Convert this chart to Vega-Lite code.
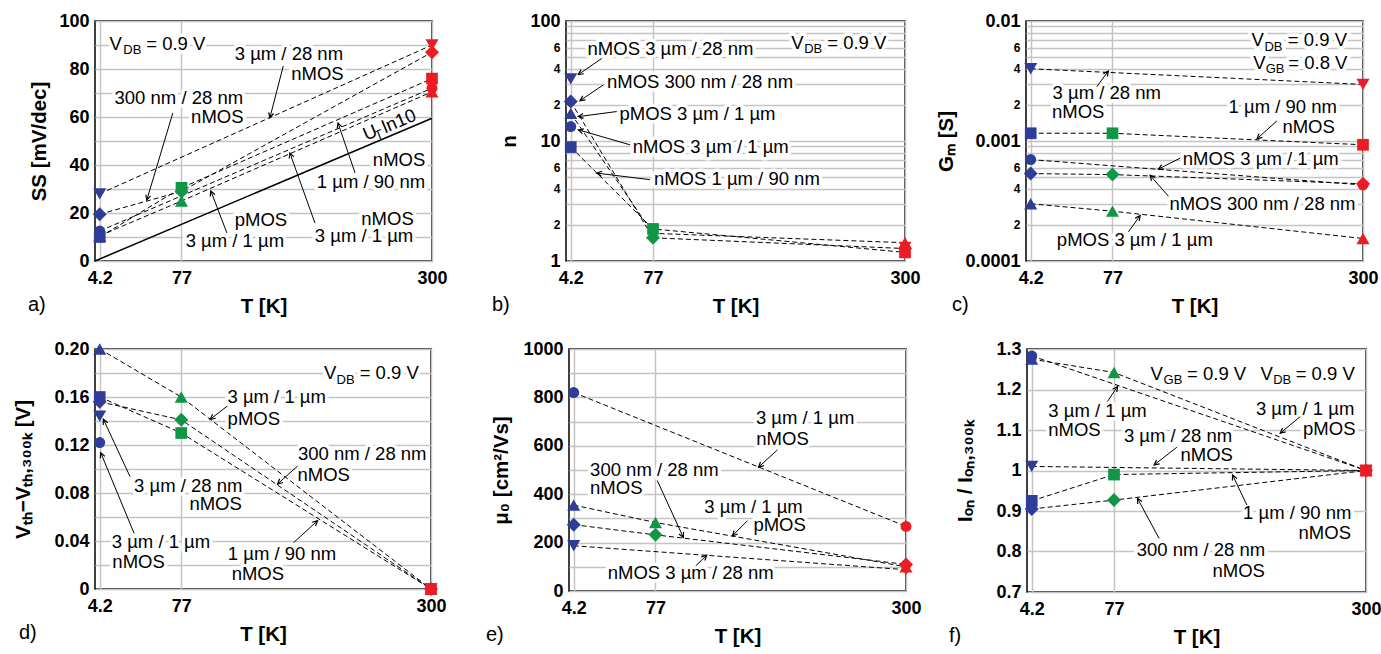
{
  "$schema": "https://vega.github.io/schema/vega-lite/v6.json",
  "padding": {"left": 13, "top": 11, "right": 4, "bottom": 4},
  "config": {
    "view": {"stroke": "black", "strokeWidth": 1.5},
    "axis": {
      "domain": false, "ticks": false, "grid": true, "gridColor": "#c4c4c4", "gridWidth": 1.5, "gridOpacity": 1,
      "labelFont": "Liberation Sans", "labelFontWeight": "bold", "labelFontSize": 18, "labelColor": "black",
      "labelPadding": 6, "labelFlush": false, "labelOverlap": false,
      "titleFont": "Liberation Sans", "titleFontWeight": "bold", "titleFontSize": 20.5, "titleColor": "black"
    },
    "title": {"font": "Liberation Sans", "fontWeight": "normal", "fontSize": 20, "color": "black"},
    "text": {"font": "Liberation Sans"}
  },
  "datasets": {
    "ut": [{"T": 0, "v": 0}, {"T": 300, "v": 59.5}],
    "pts": [
      {"p": "a", "s": "n1u90n", "T": 4.2, "v": 10},
      {"p": "a", "s": "p3u1u", "T": 4.2, "v": 10.5},
      {"p": "a", "s": "n3u1u", "T": 4.2, "v": 12.5},
      {"p": "a", "s": "n300n28n", "T": 4.2, "v": 19.5},
      {"p": "a", "s": "n3u28n", "T": 4.2, "v": 28},
      {"p": "a", "s": "n300n28n", "T": 77, "v": 29},
      {"p": "a", "s": "n1u90n", "T": 77, "v": 30.5},
      {"p": "a", "s": "p3u1u", "T": 77, "v": 25},
      {"p": "a", "s": "n3u28n", "T": 300, "v": 90},
      {"p": "a", "s": "n300n28n", "T": 300, "v": 87},
      {"p": "a", "s": "n1u90n", "T": 300, "v": 76},
      {"p": "a", "s": "p3u1u", "T": 300, "v": 70.5},
      {"p": "a", "s": "n3u1u", "T": 300, "v": 72},

      {"p": "b", "s": "n3u28n", "T": 4.2, "v": 33},
      {"p": "b", "s": "n300n28n", "T": 4.2, "v": 21.3},
      {"p": "b", "s": "p3u1u", "T": 4.2, "v": 17},
      {"p": "b", "s": "n3u1u", "T": 4.2, "v": 13.2},
      {"p": "b", "s": "n1u90n", "T": 4.2, "v": 8.9},
      {"p": "b", "s": "p3u1u", "T": 77, "v": 1.7},
      {"p": "b", "s": "n1u90n", "T": 77, "v": 1.85},
      {"p": "b", "s": "n300n28n", "T": 77, "v": 1.56},
      {"p": "b", "s": "n3u28n", "T": 300, "v": 1.3},
      {"p": "b", "s": "n3u1u", "T": 300, "v": 1.25},
      {"p": "b", "s": "n300n28n", "T": 300, "v": 1.27},
      {"p": "b", "s": "n1u90n", "T": 300, "v": 1.18},
      {"p": "b", "s": "p3u1u", "T": 300, "v": 1.42},

      {"p": "c", "s": "n3u28n", "T": 4.2, "v": 0.004},
      {"p": "c", "s": "n1u90n", "T": 4.2, "v": 0.00116},
      {"p": "c", "s": "n3u1u", "T": 4.2, "v": 0.0007},
      {"p": "c", "s": "n300n28n", "T": 4.2, "v": 0.000535},
      {"p": "c", "s": "p3u1u", "T": 4.2, "v": 0.0003},
      {"p": "c", "s": "n1u90n", "T": 77, "v": 0.00116},
      {"p": "c", "s": "n300n28n", "T": 77, "v": 0.000525},
      {"p": "c", "s": "p3u1u", "T": 77, "v": 0.00026},
      {"p": "c", "s": "n3u28n", "T": 300, "v": 0.00296},
      {"p": "c", "s": "n1u90n", "T": 300, "v": 0.00093},
      {"p": "c", "s": "n3u1u", "T": 300, "v": 0.00043},
      {"p": "c", "s": "n300n28n", "T": 300, "v": 0.00044},
      {"p": "c", "s": "p3u1u", "T": 300, "v": 0.000154},

      {"p": "d", "s": "p3u1u", "T": 4.2, "v": 0.2},
      {"p": "d", "s": "n1u90n", "T": 4.2, "v": 0.16},
      {"p": "d", "s": "n300n28n", "T": 4.2, "v": 0.156},
      {"p": "d", "s": "n3u28n", "T": 4.2, "v": 0.144},
      {"p": "d", "s": "n3u1u", "T": 4.2, "v": 0.122},
      {"p": "d", "s": "p3u1u", "T": 77, "v": 0.16},
      {"p": "d", "s": "n300n28n", "T": 77, "v": 0.141},
      {"p": "d", "s": "n1u90n", "T": 77, "v": 0.13},
      {"p": "d", "s": "p3u1u", "T": 300, "v": 0},
      {"p": "d", "s": "n1u90n", "T": 300, "v": 0},
      {"p": "d", "s": "n300n28n", "T": 300, "v": 0},
      {"p": "d", "s": "n3u28n", "T": 300, "v": 0},
      {"p": "d", "s": "n3u1u", "T": 300, "v": 0},

      {"p": "e", "s": "n3u1u", "T": 4.2, "v": 820},
      {"p": "e", "s": "p3u1u", "T": 4.2, "v": 355},
      {"p": "e", "s": "n300n28n", "T": 4.2, "v": 274},
      {"p": "e", "s": "n3u28n", "T": 4.2, "v": 187},
      {"p": "e", "s": "p3u1u", "T": 77, "v": 283},
      {"p": "e", "s": "n300n28n", "T": 77, "v": 232},
      {"p": "e", "s": "n3u1u", "T": 300, "v": 267},
      {"p": "e", "s": "p3u1u", "T": 300, "v": 100},
      {"p": "e", "s": "n3u28n", "T": 300, "v": 88},
      {"p": "e", "s": "n300n28n", "T": 300, "v": 110},

      {"p": "f", "s": "p3u1u", "T": 4.2, "v": 1.275},
      {"p": "f", "s": "n3u1u", "T": 4.2, "v": 1.283},
      {"p": "f", "s": "n3u28n", "T": 4.2, "v": 1.01},
      {"p": "f", "s": "n1u90n", "T": 4.2, "v": 0.925},
      {"p": "f", "s": "n300n28n", "T": 4.2, "v": 0.905},
      {"p": "f", "s": "p3u1u", "T": 77, "v": 1.242},
      {"p": "f", "s": "n1u90n", "T": 77, "v": 0.99},
      {"p": "f", "s": "n300n28n", "T": 77, "v": 0.927},
      {"p": "f", "s": "p3u1u", "T": 300, "v": 1},
      {"p": "f", "s": "n1u90n", "T": 300, "v": 1},
      {"p": "f", "s": "n300n28n", "T": 300, "v": 1},
      {"p": "f", "s": "n3u28n", "T": 300, "v": 1},
      {"p": "f", "s": "n3u1u", "T": 300, "v": 1}
    ],
    "txt": [
      {"p": "a", "T": 18.4, "v": 90.4, "t": "V"},
      {"p": "a", "T": 33.2, "v": 87.9, "t": "DB", "k": "s"},
      {"p": "a", "T": 71.9, "v": 90.4, "t": "= 0.9 V"},
      {"p": "a", "T": 172.6, "v": 86.25, "t": "3 µm / 28 nm"},
      {"p": "a", "T": 198.0, "v": 78.1, "t": "nMOS"},
      {"p": "a", "T": 74.6, "v": 68.0, "t": "300 nm / 28 nm"},
      {"p": "a", "T": 108.9, "v": 60.1, "t": "nMOS"},
      {"p": "a", "T": 147.7, "v": 17.1, "t": "pMOS"},
      {"p": "a", "T": 124.5, "v": 8.3, "t": "3 µm / 1 µm"},
      {"p": "a", "T": 260.4, "v": 17.7, "t": "nMOS"},
      {"p": "a", "T": 239.5, "v": 10.4, "t": "3 µm / 1 µm"},
      {"p": "a", "T": 270.7, "v": 42.1, "t": "nMOS"},
      {"p": "a", "T": 245.7, "v": 32.9, "t": "1 µm / 90 nm"},
      {"p": "a", "T": 244.8, "v": 53.5, "t": "U", "k": "r"},
      {"p": "a", "T": 252.9, "v": 52.5, "t": "T", "k": "rs"},
      {"p": "a", "T": 270.7, "v": 58.3, "t": "ln10", "k": "r"},

      {"p": "b", "T": 92.5, "v": 58.0, "t": "nMOS 3 µm / 28 nm"},
      {"p": "b", "T": 204.9, "v": 65.7, "t": "V"},
      {"p": "b", "T": 218.8, "v": 58.0, "t": "DB", "k": "s"},
      {"p": "b", "T": 257.3, "v": 65.7, "t": "= 0.9 V"},
      {"p": "b", "T": 118.6, "v": 31.2, "t": "nMOS 300 nm / 28 nm"},
      {"p": "b", "T": 116.4, "v": 16.9, "t": "pMOS 3 µm / 1 µm"},
      {"p": "b", "T": 128.1, "v": 8.87, "t": "nMOS 3 µm / 1 µm"},
      {"p": "b", "T": 151.2, "v": 4.84, "t": "nMOS 1 µm / 90 nm"},

      {"p": "c", "T": 206.3, "v": 0.006916, "t": "V"},
      {"p": "c", "T": 220.3, "v": 0.006118, "t": "DB", "k": "s"},
      {"p": "c", "T": 259.4, "v": 0.006916, "t": "= 0.9 V"},
      {"p": "c", "T": 207.7, "v": 0.004497, "t": "V"},
      {"p": "c", "T": 221.7, "v": 0.004018, "t": "GB", "k": "s"},
      {"p": "c", "T": 259.8, "v": 0.004497, "t": "= 0.8 V"},
      {"p": "c", "T": 71.9, "v": 0.002536, "t": "3 µm / 28 nm"},
      {"p": "c", "T": 46.5, "v": 0.001731, "t": "nMOS"},
      {"p": "c", "T": 228.6, "v": 0.001905, "t": "1 µm / 90 nm"},
      {"p": "c", "T": 251.6, "v": 0.001299, "t": "nMOS"},
      {"p": "c", "T": 209.0, "v": 0.000709, "t": "nMOS 3 µm / 1 µm"},
      {"p": "c", "T": 210.5, "v": 0.0003, "t": "nMOS 300 nm / 28 nm"},
      {"p": "c", "T": 96.9, "v": 0.0001494, "t": "pMOS 3 µm / 1 µm"},

      {"p": "d", "T": 209.9, "v": 0.1798, "t": "V"},
      {"p": "d", "T": 223.8, "v": 0.1742, "t": "DB", "k": "s"},
      {"p": "d", "T": 262.7, "v": 0.1798, "t": "= 0.9 V"},
      {"p": "d", "T": 162.2, "v": 0.1596, "t": "3 µm / 1 µm"},
      {"p": "d", "T": 141.8, "v": 0.1417, "t": "pMOS"},
      {"p": "d", "T": 238.6, "v": 0.1128, "t": "300 nm / 28 nm"},
      {"p": "d", "T": 204.2, "v": 0.095, "t": "nMOS"},
      {"p": "d", "T": 83.3, "v": 0.0862, "t": "3 µm / 28 nm"},
      {"p": "d", "T": 107.7, "v": 0.0708, "t": "nMOS"},
      {"p": "d", "T": 58.9, "v": 0.0388, "t": "3 µm / 1 µm"},
      {"p": "d", "T": 38.9, "v": 0.0221, "t": "nMOS"},
      {"p": "d", "T": 167.0, "v": 0.0292, "t": "1 µm / 90 nm"},
      {"p": "d", "T": 145.4, "v": 0.0125, "t": "nMOS"},

      {"p": "e", "T": 210.2, "v": 715.8, "t": "3 µm / 1 µm"},
      {"p": "e", "T": 190.1, "v": 629.9, "t": "nMOS"},
      {"p": "e", "T": 76.0, "v": 501.2, "t": "300 nm / 28 nm"},
      {"p": "e", "T": 42.1, "v": 424.5, "t": "nMOS"},
      {"p": "e", "T": 164.3, "v": 349, "t": "3 µm / 1 µm"},
      {"p": "e", "T": 187.5, "v": 273, "t": "pMOS"},
      {"p": "e", "T": 108.3, "v": 72.6, "t": "nMOS 3 µm / 28 nm"},

      {"p": "f", "T": 114.7, "v": 1.2384, "t": "V"},
      {"p": "f", "T": 129.2, "v": 1.2233, "t": "GB", "k": "s"},
      {"p": "f", "T": 167.8, "v": 1.2384, "t": "= 0.9 V"},
      {"p": "f", "T": 212.1, "v": 1.2384, "t": "V"},
      {"p": "f", "T": 225.9, "v": 1.2233, "t": "DB", "k": "s"},
      {"p": "f", "T": 263.9, "v": 1.2384, "t": "= 0.9 V"},
      {"p": "f", "T": 62.4, "v": 1.1478, "t": "3 µm / 1 µm"},
      {"p": "f", "T": 42.0, "v": 1.1002, "t": "nMOS"},
      {"p": "f", "T": 133.7, "v": 1.0842, "t": "3 µm / 28 nm"},
      {"p": "f", "T": 159.0, "v": 1.0389, "t": "nMOS"},
      {"p": "f", "T": 246.1, "v": 1.1517, "t": "3 µm / 1 µm"},
      {"p": "f", "T": 267.5, "v": 1.1022, "t": "pMOS"},
      {"p": "f", "T": 239.2, "v": 0.896, "t": "1 µm / 90 nm"},
      {"p": "f", "T": 263.5, "v": 0.8465, "t": "nMOS"},
      {"p": "f", "T": 153.9, "v": 0.8037, "t": "300 nm / 28 nm"},
      {"p": "f", "T": 187.3, "v": 0.7507, "t": "nMOS"}
    ],
    "arr": [
      {"p": "a", "T": 167.6, "v": 81.25, "T2": 155.7, "v2": 59.7, "a": 194.4},
      {"p": "a", "T": 69.3, "v": 61.7, "T2": 46.1, "v2": 25.4, "a": 196.6},
      {"p": "a", "T": 117.4, "v": 11.7, "T2": 103.1, "v2": 29.2, "a": 339.1},
      {"p": "a", "T": 195.8, "v": 15.8, "T2": 173.5, "v2": 45, "a": 340.3},
      {"p": "a", "T": 231.5, "v": 36.7, "T2": 216.3, "v2": 57.5, "a": 341.2},
      {"p": "b", "T": 31.6, "v": 48.7, "T2": 10.9, "v2": 35.8, "a": 235.6},
      {"p": "b", "T": 33.0, "v": 29.3, "T2": 12.4, "v2": 21.7, "a": 236},
      {"p": "b", "T": 44.9, "v": 17.6, "T2": 10.9, "v2": 15.97, "a": 262.6},
      {"p": "b", "T": 56.6, "v": 9.3, "T2": 10.9, "v2": 12.39, "a": 286.2},
      {"p": "b", "T": 74.3, "v": 4.76, "T2": 27.2, "v2": 5.4, "a": 277.1},
      {"p": "c", "T": 63.0, "v": 0.002834, "T2": 73.3, "v2": 0.003825, "a": 36.5},
      {"p": "c", "T": 223.4, "v": 0.001471, "T2": 205.6, "v2": 0.001043, "a": 228},
      {"p": "c", "T": 137.3, "v": 0.00072, "T2": 117.9, "v2": 0.0005834, "a": 243.1},
      {"p": "c", "T": 126.8, "v": 0.0003462, "T2": 110.5, "v2": 0.0005172, "a": 318.9},
      {"p": "c", "T": 91.2, "v": 0.000175, "T2": 101.6, "v2": 0.0002395, "a": 35.5},
      {"p": "d", "T": 118.3, "v": 0.1525, "T2": 102.8, "v2": 0.1414, "a": 232.6},
      {"p": "d", "T": 180.9, "v": 0.1025, "T2": 163.0, "v2": 0.0875, "a": 228},
      {"p": "d", "T": 31.3, "v": 0.0936, "T2": 7.5, "v2": 0.1414, "a": 335.1},
      {"p": "d", "T": 34.9, "v": 0.0464, "T2": 5.1, "v2": 0.1136, "a": 337.6},
      {"p": "d", "T": 177.3, "v": 0.0386, "T2": 198.7, "v2": 0.0569, "a": 47.5},
      {"p": "e", "T": 185.6, "v": 583.4, "T2": 168.7, "v2": 511.6, "a": 227.7},
      {"p": "e", "T": 78.6, "v": 456.4, "T2": 101.8, "v2": 221.2, "a": 155.4},
      {"p": "e", "T": 158.9, "v": 290.5, "T2": 145.5, "v2": 228.2, "a": 225},
      {"p": "e", "T": 112.8, "v": 103.7, "T2": 122.6, "v2": 147.7, "a": 46.1},
      {"p": "f", "T": 71.2, "v": 1.1703, "T2": 80.1, "v2": 1.2074, "a": 33.7},
      {"p": "f", "T": 132.6, "v": 1.0574, "T2": 112.5, "v2": 1.0136, "a": 232.1},
      {"p": "f", "T": 241.8, "v": 1.1332, "T2": 224.1, "v2": 1.0921, "a": 230.3},
      {"p": "f", "T": 194.6, "v": 0.9146, "T2": 181.9, "v2": 0.9889, "a": 334.5},
      {"p": "f", "T": 116.9, "v": 0.8322, "T2": 97.8, "v2": 0.9312, "a": 331.6}
    ]
  },
  "spacing": 21,
  "resolve": {"scale": {"x": "independent", "y": "independent"}},
  "vconcat": [
    {
      "bounds": "flush", "spacing": 134,
      "resolve": {"scale": {"x": "independent", "y": "independent"}},
      "hconcat": [
        {
          "width": 337, "height": 240,
          "title": {"text": "a)", "orient": "bottom", "anchor": "start", "frame": "group", "dx": -67, "offset": -22},
          "encoding": {
            "x": {"field": "T", "type": "quantitative", "scale": {"domain": [0, 300], "nice": false},
                  "axis": {"title": "T [K]", "values": [4.2, 77, 300], "labelExpr": "datum.value === 4.2 ? '4.2' : format(datum.value, 'd')", "labelPadding": 8, "titlePadding": 9}},
            "y": {"field": "v", "type": "quantitative", "scale": {"domain": [0, 100], "nice": false},
                  "axis": {"title": "SS [mV/dec]", "values": [0, 10, 20, 30, 40, 50, 60, 70, 80, 90, 100],
                           "labelExpr": "datum.value % 20 === 0 ? format(datum.value, 'd') : ''", "titlePadding": 9}}
          },
          "layer": [
            {"data": {"name": "ut"}, "mark": {"type": "line", "color": "black", "strokeWidth": 1.5}},
            {"data": {"name": "pts"}, "transform": [{"filter": "datum.p === 'a'"}],
             "mark": {"type": "line", "color": "black", "strokeWidth": 1, "strokeDash": [5, 3]},
             "encoding": {"detail": {"field": "s"}, "order": {"field": "T", "type": "quantitative"}}},
            {"data": {"name": "txt"}, "transform": [{"filter": "datum.p === 'a' && datum.k !== 'r' && datum.k !== 'rs'"}],
             "mark": {"type": "text", "fill": "white", "stroke": "white", "strokeWidth": 7, "strokeJoin": "round", "font": "Liberation Sans"},
             "encoding": {"text": {"field": "t"}, "size": {"condition": {"test": "datum.k === 's' || datum.k === 'rs'", "value": 13}, "value": 18.5}}},
            {"data": {"name": "txt"}, "transform": [{"filter": "datum.p === 'a'"}],
             "mark": {"type": "text", "color": "black", "font": "Liberation Sans"},
             "encoding": {"text": {"field": "t"}, "size": {"condition": {"test": "datum.k === 's' || datum.k === 'rs'", "value": 13}, "value": 18.5},
                          "angle": {"condition": {"test": "datum.k === 'r' || datum.k === 'rs'", "value": 337}, "value": 0}}},
            {"data": {"name": "arr"}, "transform": [{"filter": "datum.p === 'a'"}],
             "mark": {"type": "rule", "color": "black", "strokeWidth": 1},
             "encoding": {"x2": {"field": "T2"}, "y2": {"field": "v2"}}},
            {"data": {"name": "arr"}, "transform": [{"filter": "datum.p === 'a'"}],
             "mark": {"type": "point", "shape": "M-0.5,1L0,0L0.5,1", "filled": false, "color": "black", "strokeWidth": 1.2, "size": 100, "opacity": 1},
             "encoding": {"x": {"field": "T2", "type": "quantitative"}, "y": {"field": "v2", "type": "quantitative"}, "angle": {"field": "a", "type": "quantitative", "scale": null}}},
            {"data": {"name": "pts"}, "transform": [{"filter": "datum.p === 'a'"}],
             "mark": {"type": "point", "filled": true, "opacity": 1},
             "encoding": {
               "shape": {"field": "s", "type": "nominal", "scale": {"domain": ["n3u28n", "n300n28n", "p3u1u", "n3u1u", "n1u90n"], "range": ["triangle-down", "diamond", "triangle-up", "circle", "square"]}, "legend": null},
               "size": {"field": "s", "type": "nominal", "scale": {"type": "ordinal", "domain": ["n3u28n", "n300n28n", "p3u1u", "n3u1u", "n1u90n"], "range": [170, 195, 170, 120, 137]}, "legend": null},
               "color": {"field": "T", "type": "nominal", "scale": {"domain": [4.2, 77, 300], "range": ["#2f3c98", "#119648", "#ec1c24"]}, "legend": null}}}
          ]
        },
        {
          "bounds": "flush", "spacing": 121,
          "resolve": {"scale": {"x": "independent", "y": "independent"}},
          "hconcat": [
            {
              "width": 339, "height": 240,
              "title": {"text": "b)", "orient": "bottom", "anchor": "start", "frame": "group", "dx": -74, "offset": -22},
              "encoding": {
                "x": {"field": "T", "type": "quantitative", "scale": {"domain": [0, 300], "nice": false},
                      "axis": {"title": "T [K]", "values": [4.2, 77, 300], "labelExpr": "datum.value === 4.2 ? '4.2' : format(datum.value, 'd')", "labelPadding": 8, "titlePadding": 9}},
                "y": {"field": "v", "type": "quantitative", "scale": {"type": "log", "domain": [1, 100], "nice": false},
                      "axis": {"title": "n", "values": [1, 2, 3, 4, 5, 6, 7, 8, 9, 10, 20, 30, 40, 50, 60, 70, 80, 90, 100],
                               "labelExpr": "datum.value === 1 || datum.value === 10 || datum.value === 100 ? format(datum.value, 'd') : indexof([2, 4, 6], datum.value) >= 0 ? format(datum.value, 'd') : indexof([20, 40, 60], datum.value) >= 0 ? format(datum.value / 10, 'd') : ''",
                               "labelFontSize": {"condition": {"test": "datum.value === 1 || datum.value === 10 || datum.value === 100", "value": 18}, "value": 12},
                               "titlePadding": 10}}
              },
              "layer": [
                {"data": {"name": "pts"}, "transform": [{"filter": "datum.p === 'b' && datum.s !== 'n3u28n' && datum.s !== 'n3u1u'"}],
                 "mark": {"type": "line", "color": "black", "strokeWidth": 1, "strokeDash": [5, 3]},
                 "encoding": {"detail": {"field": "s"}, "order": {"field": "T", "type": "quantitative"}}},
                {"data": {"name": "txt"}, "transform": [{"filter": "datum.p === 'b'"}],
                 "mark": {"type": "text", "fill": "white", "stroke": "white", "strokeWidth": 7, "strokeJoin": "round", "font": "Liberation Sans"},
                 "encoding": {"text": {"field": "t"}, "size": {"condition": {"test": "datum.k === 's'", "value": 13}, "value": 18.5}}},
                {"data": {"name": "txt"}, "transform": [{"filter": "datum.p === 'b'"}],
                 "mark": {"type": "text", "color": "black", "font": "Liberation Sans"},
                 "encoding": {"text": {"field": "t"}, "size": {"condition": {"test": "datum.k === 's'", "value": 13}, "value": 18.5}}},
                {"data": {"name": "arr"}, "transform": [{"filter": "datum.p === 'b'"}],
                 "mark": {"type": "rule", "color": "black", "strokeWidth": 1},
                 "encoding": {"x2": {"field": "T2"}, "y2": {"field": "v2"}}},
                {"data": {"name": "arr"}, "transform": [{"filter": "datum.p === 'b'"}],
                 "mark": {"type": "point", "shape": "M-0.5,1L0,0L0.5,1", "filled": false, "color": "black", "strokeWidth": 1.2, "size": 100, "opacity": 1},
                 "encoding": {"x": {"field": "T2", "type": "quantitative"}, "y": {"field": "v2", "type": "quantitative"}, "angle": {"field": "a", "type": "quantitative", "scale": null}}},
                {"data": {"name": "pts"}, "transform": [{"filter": "datum.p === 'b'"}],
                 "mark": {"type": "point", "filled": true, "opacity": 1},
                 "encoding": {
                   "shape": {"field": "s", "type": "nominal", "scale": {"domain": ["n3u28n", "n300n28n", "p3u1u", "n3u1u", "n1u90n"], "range": ["triangle-down", "diamond", "triangle-up", "circle", "square"]}, "legend": null},
                   "size": {"field": "s", "type": "nominal", "scale": {"type": "ordinal", "domain": ["n3u28n", "n300n28n", "p3u1u", "n3u1u", "n1u90n"], "range": [170, 195, 170, 120, 137]}, "legend": null},
                   "color": {"field": "T", "type": "nominal", "scale": {"domain": [4.2, 77, 300], "range": ["#2f3c98", "#119648", "#ec1c24"]}, "legend": null}}}
              ]
            },
            {
              "width": 337, "height": 240,
              "title": {"text": "c)", "orient": "bottom", "anchor": "start", "frame": "group", "dx": -74, "offset": -22},
              "encoding": {
                "x": {"field": "T", "type": "quantitative", "scale": {"domain": [0, 300], "nice": false},
                      "axis": {"title": "T [K]", "values": [4.2, 77, 300], "labelExpr": "datum.value === 4.2 ? '4.2' : format(datum.value, 'd')", "labelPadding": 8, "titlePadding": 9}},
                "y": {"field": "v", "type": "quantitative", "scale": {"type": "log", "domain": [0.0001, 0.01], "nice": false},
                      "axis": {"title": "Gₘ [S]", "values": [0.0001, 0.0002, 0.0003, 0.0004, 0.0005, 0.0006, 0.0007, 0.0008, 0.0009, 0.001, 0.002, 0.003, 0.004, 0.005, 0.006, 0.007, 0.008, 0.009, 0.01],
                               "labelExpr": "datum.value === 0.0001 ? '0.0001' : datum.value === 0.001 ? '0.001' : datum.value === 0.01 ? '0.01' : indexof([0.0002, 0.0004, 0.0006], datum.value) >= 0 ? format(datum.value * 10000, '.0f') : indexof([0.002, 0.004, 0.006], datum.value) >= 0 ? format(datum.value * 1000, '.0f') : ''",
                               "labelFontSize": {"condition": {"test": "datum.value === 0.0001 || datum.value === 0.001 || datum.value === 0.01", "value": 18}, "value": 12},
                               "titlePadding": 8}}
              },
              "layer": [
                {"data": {"name": "pts"}, "transform": [{"filter": "datum.p === 'c'"}],
                 "mark": {"type": "line", "color": "black", "strokeWidth": 1, "strokeDash": [5, 3]},
                 "encoding": {"detail": {"field": "s"}, "order": {"field": "T", "type": "quantitative"}}},
                {"data": {"name": "txt"}, "transform": [{"filter": "datum.p === 'c'"}],
                 "mark": {"type": "text", "fill": "white", "stroke": "white", "strokeWidth": 7, "strokeJoin": "round", "font": "Liberation Sans"},
                 "encoding": {"text": {"field": "t"}, "size": {"condition": {"test": "datum.k === 's'", "value": 13}, "value": 18.5}}},
                {"data": {"name": "txt"}, "transform": [{"filter": "datum.p === 'c'"}],
                 "mark": {"type": "text", "color": "black", "font": "Liberation Sans"},
                 "encoding": {"text": {"field": "t"}, "size": {"condition": {"test": "datum.k === 's'", "value": 13}, "value": 18.5}}},
                {"data": {"name": "arr"}, "transform": [{"filter": "datum.p === 'c'"}],
                 "mark": {"type": "rule", "color": "black", "strokeWidth": 1},
                 "encoding": {"x2": {"field": "T2"}, "y2": {"field": "v2"}}},
                {"data": {"name": "arr"}, "transform": [{"filter": "datum.p === 'c'"}],
                 "mark": {"type": "point", "shape": "M-0.5,1L0,0L0.5,1", "filled": false, "color": "black", "strokeWidth": 1.2, "size": 100, "opacity": 1},
                 "encoding": {"x": {"field": "T2", "type": "quantitative"}, "y": {"field": "v2", "type": "quantitative"}, "angle": {"field": "a", "type": "quantitative", "scale": null}}},
                {"data": {"name": "pts"}, "transform": [{"filter": "datum.p === 'c'"}],
                 "mark": {"type": "point", "filled": true, "opacity": 1},
                 "encoding": {
                   "shape": {"field": "s", "type": "nominal", "scale": {"domain": ["n3u28n", "n300n28n", "p3u1u", "n3u1u", "n1u90n"], "range": ["triangle-down", "diamond", "triangle-up", "circle", "square"]}, "legend": null},
                   "size": {"field": "s", "type": "nominal", "scale": {"type": "ordinal", "domain": ["n3u28n", "n300n28n", "p3u1u", "n3u1u", "n1u90n"], "range": [170, 195, 170, 120, 137]}, "legend": null},
                   "color": {"field": "T", "type": "nominal", "scale": {"domain": [4.2, 77, 300], "range": ["#2f3c98", "#119648", "#ec1c24"]}, "legend": null}}}
              ]
            }
          ]
        }
      ]
    },
    {
      "bounds": "flush", "spacing": 138,
      "resolve": {"scale": {"x": "independent", "y": "independent"}},
      "hconcat": [
        {
          "width": 336, "height": 240,
          "title": {"text": "d)", "orient": "bottom", "anchor": "start", "frame": "group", "dx": -76, "offset": -22},
          "encoding": {
            "x": {"field": "T", "type": "quantitative", "scale": {"domain": [0, 300], "nice": false},
                  "axis": {"title": "T [K]", "values": [4.2, 77, 300], "labelExpr": "datum.value === 4.2 ? '4.2' : format(datum.value, 'd')", "labelPadding": 8, "titlePadding": 9}},
            "y": {"field": "v", "type": "quantitative", "scale": {"domain": [0, 0.2], "nice": false},
                  "axis": {"title": "Vₜₕ−Vₜₕ,₃₀₀ₖ [V]", "values": [0, 0.02, 0.04, 0.06, 0.08, 0.1, 0.12, 0.14, 0.16, 0.18, 0.2],
                           "labelExpr": "datum.value === 0 ? '0' : indexof([0.04, 0.08, 0.12, 0.16, 0.2], datum.value) >= 0 ? format(datum.value, '.2f') : ''",
                           "titlePadding": 20}}
          },
          "layer": [
            {"data": {"name": "pts"}, "transform": [{"filter": "datum.p === 'd' && datum.s !== 'n3u28n' && datum.s !== 'n3u1u'"}],
             "mark": {"type": "line", "color": "black", "strokeWidth": 1, "strokeDash": [5, 3]},
             "encoding": {"detail": {"field": "s"}, "order": {"field": "T", "type": "quantitative"}}},
            {"data": {"name": "txt"}, "transform": [{"filter": "datum.p === 'd'"}],
             "mark": {"type": "text", "fill": "white", "stroke": "white", "strokeWidth": 7, "strokeJoin": "round", "font": "Liberation Sans"},
             "encoding": {"text": {"field": "t"}, "size": {"condition": {"test": "datum.k === 's'", "value": 13}, "value": 18.5}}},
            {"data": {"name": "txt"}, "transform": [{"filter": "datum.p === 'd'"}],
             "mark": {"type": "text", "color": "black", "font": "Liberation Sans"},
             "encoding": {"text": {"field": "t"}, "size": {"condition": {"test": "datum.k === 's'", "value": 13}, "value": 18.5}}},
            {"data": {"name": "arr"}, "transform": [{"filter": "datum.p === 'd'"}],
             "mark": {"type": "rule", "color": "black", "strokeWidth": 1},
             "encoding": {"x2": {"field": "T2"}, "y2": {"field": "v2"}}},
            {"data": {"name": "arr"}, "transform": [{"filter": "datum.p === 'd'"}],
             "mark": {"type": "point", "shape": "M-0.5,1L0,0L0.5,1", "filled": false, "color": "black", "strokeWidth": 1.2, "size": 100, "opacity": 1},
             "encoding": {"x": {"field": "T2", "type": "quantitative"}, "y": {"field": "v2", "type": "quantitative"}, "angle": {"field": "a", "type": "quantitative", "scale": null}}},
            {"data": {"name": "pts"}, "transform": [{"filter": "datum.p === 'd'"}],
             "mark": {"type": "point", "filled": true, "opacity": 1},
             "encoding": {
               "shape": {"field": "s", "type": "nominal", "scale": {"domain": ["n3u28n", "n300n28n", "p3u1u", "n3u1u", "n1u90n"], "range": ["triangle-down", "diamond", "triangle-up", "circle", "square"]}, "legend": null},
               "size": {"field": "s", "type": "nominal", "scale": {"type": "ordinal", "domain": ["n3u28n", "n300n28n", "p3u1u", "n3u1u", "n1u90n"], "range": [170, 195, 170, 120, 137]}, "legend": null},
               "color": {"field": "T", "type": "nominal", "scale": {"domain": [4.2, 77, 300], "range": ["#2f3c98", "#119648", "#ec1c24"]}, "legend": null}}}
          ]
        },
        {
          "bounds": "flush", "spacing": 121,
          "resolve": {"scale": {"x": "independent", "y": "independent"}},
          "hconcat": [
            {
              "width": 337, "height": 242,
              "title": {"text": "e)", "orient": "bottom", "anchor": "start", "frame": "group", "dx": -83, "offset": -22},
              "encoding": {
                "x": {"field": "T", "type": "quantitative", "scale": {"domain": [0, 300], "nice": false},
                      "axis": {"title": "T [K]", "values": [4.2, 77, 300], "labelExpr": "datum.value === 4.2 ? '4.2' : format(datum.value, 'd')", "labelPadding": 8, "titlePadding": 9}},
                "y": {"field": "v", "type": "quantitative", "scale": {"domain": [0, 1000], "nice": false},
                      "axis": {"title": "μ₀ [cm²/Vs]", "values": [0, 100, 200, 300, 400, 500, 600, 700, 800, 900, 1000],
                               "labelExpr": "datum.value % 200 === 0 ? format(datum.value, 'd') : ''", "titlePadding": 11}}
              },
              "layer": [
                {"data": {"name": "pts"}, "transform": [{"filter": "datum.p === 'e'"}],
                 "mark": {"type": "line", "color": "black", "strokeWidth": 1, "strokeDash": [5, 3]},
                 "encoding": {"detail": {"field": "s"}, "order": {"field": "T", "type": "quantitative"}}},
                {"data": {"name": "txt"}, "transform": [{"filter": "datum.p === 'e'"}],
                 "mark": {"type": "text", "fill": "white", "stroke": "white", "strokeWidth": 7, "strokeJoin": "round", "font": "Liberation Sans"},
                 "encoding": {"text": {"field": "t"}, "size": {"value": 18.5}}},
                {"data": {"name": "txt"}, "transform": [{"filter": "datum.p === 'e'"}],
                 "mark": {"type": "text", "color": "black", "font": "Liberation Sans"},
                 "encoding": {"text": {"field": "t"}, "size": {"value": 18.5}}},
                {"data": {"name": "arr"}, "transform": [{"filter": "datum.p === 'e'"}],
                 "mark": {"type": "rule", "color": "black", "strokeWidth": 1},
                 "encoding": {"x2": {"field": "T2"}, "y2": {"field": "v2"}}},
                {"data": {"name": "arr"}, "transform": [{"filter": "datum.p === 'e'"}],
                 "mark": {"type": "point", "shape": "M-0.5,1L0,0L0.5,1", "filled": false, "color": "black", "strokeWidth": 1.2, "size": 100, "opacity": 1},
                 "encoding": {"x": {"field": "T2", "type": "quantitative"}, "y": {"field": "v2", "type": "quantitative"}, "angle": {"field": "a", "type": "quantitative", "scale": null}}},
                {"data": {"name": "pts"}, "transform": [{"filter": "datum.p === 'e'"}],
                 "mark": {"type": "point", "filled": true, "opacity": 1},
                 "encoding": {
                   "shape": {"field": "s", "type": "nominal", "scale": {"domain": ["n3u28n", "n300n28n", "p3u1u", "n3u1u", "n1u90n"], "range": ["triangle-down", "diamond", "triangle-up", "circle", "square"]}, "legend": null},
                   "size": {"field": "s", "type": "nominal", "scale": {"type": "ordinal", "domain": ["n3u28n", "n300n28n", "p3u1u", "n3u1u", "n1u90n"], "range": [170, 195, 170, 120, 137]}, "legend": null},
                   "color": {"field": "T", "type": "nominal", "scale": {"domain": [4.2, 77, 300], "range": ["#2f3c98", "#119648", "#ec1c24"]}, "legend": null}}}
              ]
            },
            {
              "width": 339, "height": 243,
              "title": {"text": "f)", "orient": "bottom", "anchor": "start", "frame": "group", "dx": -78, "offset": -22},
              "encoding": {
                "x": {"field": "T", "type": "quantitative", "scale": {"domain": [0, 300], "nice": false},
                      "axis": {"title": "T [K]", "values": [4.2, 77, 300], "labelExpr": "datum.value === 4.2 ? '4.2' : format(datum.value, 'd')", "labelPadding": 8, "titlePadding": 9}},
                "y": {"field": "v", "type": "quantitative", "scale": {"domain": [0.7, 1.3], "nice": false},
                      "axis": {"title": "Iₒₙ / Iₒₙ,₃₀₀ₖ", "values": [0.7, 0.8, 0.9, 1, 1.1, 1.2, 1.3], "labelExpr": "datum.value === 1 ? '1' : format(datum.value, '.1f')", "titlePadding": 20}}
              },
              "layer": [
                {"data": {"name": "pts"}, "transform": [{"filter": "datum.p === 'f'"}],
                 "mark": {"type": "line", "color": "black", "strokeWidth": 1, "strokeDash": [5, 3]},
                 "encoding": {"detail": {"field": "s"}, "order": {"field": "T", "type": "quantitative"}}},
                {"data": {"name": "txt"}, "transform": [{"filter": "datum.p === 'f'"}],
                 "mark": {"type": "text", "fill": "white", "stroke": "white", "strokeWidth": 7, "strokeJoin": "round", "font": "Liberation Sans"},
                 "encoding": {"text": {"field": "t"}, "size": {"condition": {"test": "datum.k === 's'", "value": 13}, "value": 18.5}}},
                {"data": {"name": "txt"}, "transform": [{"filter": "datum.p === 'f'"}],
                 "mark": {"type": "text", "color": "black", "font": "Liberation Sans"},
                 "encoding": {"text": {"field": "t"}, "size": {"condition": {"test": "datum.k === 's'", "value": 13}, "value": 18.5}}},
                {"data": {"name": "arr"}, "transform": [{"filter": "datum.p === 'f'"}],
                 "mark": {"type": "rule", "color": "black", "strokeWidth": 1},
                 "encoding": {"x2": {"field": "T2"}, "y2": {"field": "v2"}}},
                {"data": {"name": "arr"}, "transform": [{"filter": "datum.p === 'f'"}],
                 "mark": {"type": "point", "shape": "M-0.5,1L0,0L0.5,1", "filled": false, "color": "black", "strokeWidth": 1.2, "size": 100, "opacity": 1},
                 "encoding": {"x": {"field": "T2", "type": "quantitative"}, "y": {"field": "v2", "type": "quantitative"}, "angle": {"field": "a", "type": "quantitative", "scale": null}}},
                {"data": {"name": "pts"}, "transform": [{"filter": "datum.p === 'f'"}],
                 "mark": {"type": "point", "filled": true, "opacity": 1},
                 "encoding": {
                   "shape": {"field": "s", "type": "nominal", "scale": {"domain": ["n3u28n", "n300n28n", "p3u1u", "n3u1u", "n1u90n"], "range": ["triangle-down", "diamond", "triangle-up", "circle", "square"]}, "legend": null},
                   "size": {"field": "s", "type": "nominal", "scale": {"type": "ordinal", "domain": ["n3u28n", "n300n28n", "p3u1u", "n3u1u", "n1u90n"], "range": [170, 195, 170, 120, 137]}, "legend": null},
                   "color": {"field": "T", "type": "nominal", "scale": {"domain": [4.2, 77, 300], "range": ["#2f3c98", "#119648", "#ec1c24"]}, "legend": null}}}
              ]
            }
          ]
        }
      ]
    }
  ]
}
